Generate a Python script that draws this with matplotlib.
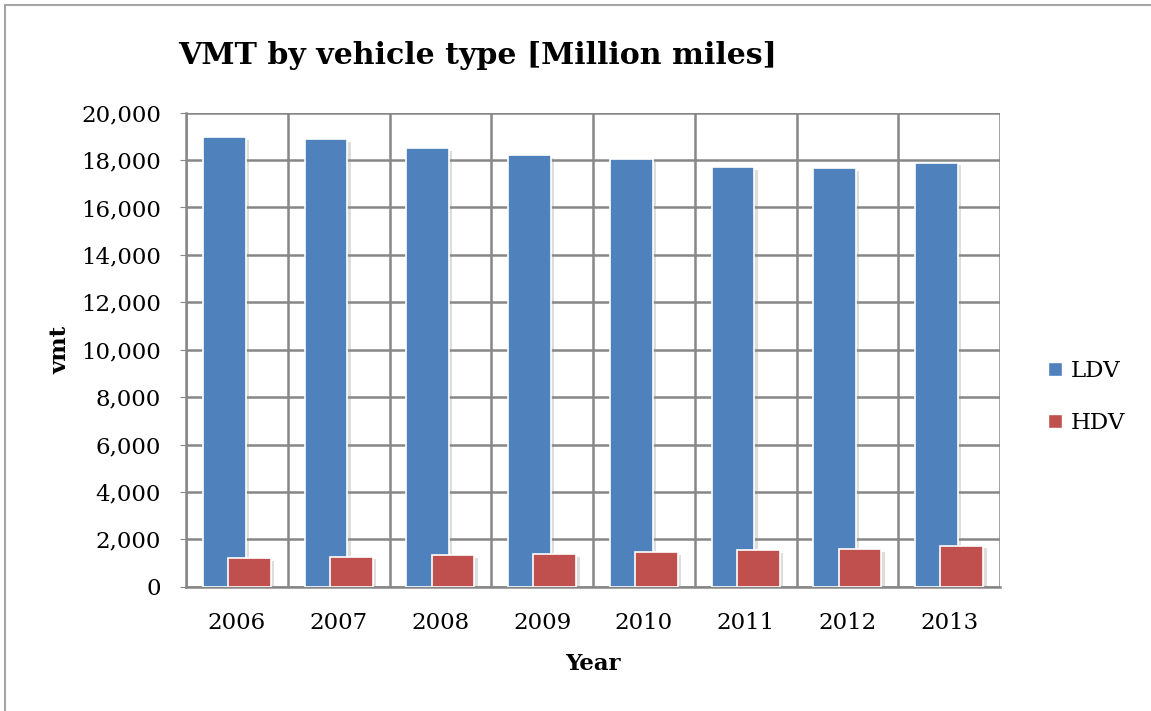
import matplotlib
matplotlib.use("Agg")
import matplotlib.pyplot as plt
import matplotlib.patheffects as pe
from matplotlib.lines import Line2D
from matplotlib.patches import Patch
from matplotlib.ticker import FuncFormatter
import numpy as np

years = ["2006", "2007", "2008", "2009", "2010", "2011", "2012", "2013"]
ldv = [18960, 18880, 18520, 18210, 18040, 17690, 17650, 17890]
hdv = [1200, 1265, 1330, 1390, 1465, 1545, 1600, 1730]

plt.rcParams["font.family"] = ["DejaVu Serif"]

fig = plt.figure(figsize=(11.51, 7.11), dpi=100)
ax = fig.add_axes([186 / 1151, 1 - 586.7 / 711, (1000 - 186) / 1151, (586.7 - 112.7) / 711])

x = np.arange(len(years))
w = 0.42
ldv_c, hdv_c = "#4F81BD", "#C0504D"
shadow = [pe.SimplePatchShadow(offset=(2.5, -2), shadow_rgbFace="#909090", alpha=0.3), pe.Normal()]
b1 = ax.bar(x - 0.125, ldv, w, color=ldv_c, edgecolor="white", linewidth=1.2, zorder=3)
b2 = ax.bar(x + 0.125, hdv, w, color=hdv_c, edgecolor="white", linewidth=1.2, zorder=4)
for bar in list(b1) + list(b2):
    bar.set_path_effects(shadow)

ax.set_xlim(-0.5, len(years) - 0.5)
ax.set_ylim(0, 20000)
ax.set_yticks(np.arange(0, 20001, 2000))
ax.yaxis.set_major_formatter(FuncFormatter(lambda v, p: f"{int(v):,}"))
ax.set_xticks(x)
ax.set_xticklabels(years)
ax.set_xticks(np.arange(-0.5, len(years)), minor=True)

grid_c = "#878787"
ax.grid(axis="y", which="major", color=grid_c, linewidth=1.8, zorder=0)
ax.grid(axis="x", which="minor", color=grid_c, linewidth=1.8, zorder=0)
ax.set_axisbelow(True)
for s in ["top", "right"]:
    ax.spines[s].set_visible(False)
for s in ["left", "bottom"]:
    ax.spines[s].set_color(grid_c)
    ax.spines[s].set_linewidth(1.8)

ax.tick_params(axis="y", which="major", length=4, color=grid_c, labelsize=16.5, pad=14)
ax.tick_params(axis="x", which="major", length=0, labelsize=16.5, pad=18)
ax.tick_params(axis="x", which="minor", length=0)

ax.set_xlabel("Year", fontsize=16.5, fontweight="bold", labelpad=14)
ax.set_ylabel("vmt", fontsize=16.5, fontweight="bold", labelpad=7)

fig.text(178 / 1151, 1 - 55 / 711, "VMT by vehicle type [Million miles]",
         fontsize=21.6, fontweight="bold", ha="left", va="center")

handles = [Patch(facecolor=ldv_c, edgecolor="white", label="LDV"),
           Patch(facecolor=hdv_c, edgecolor="white", label="HDV")]
ax.legend(handles=handles, loc="center left", bbox_to_anchor=(1.034, 0.40), frameon=False, fontsize=16.5,
          handlelength=0.6, handleheight=0.6, handletextpad=0.4, labelspacing=1.3)

# chart frame, left and top edges
fig.add_artist(Line2D([5 / 1151, 5 / 1151], [0, 1 - 5 / 711], transform=fig.transFigure, color="#a6a6a6", lw=1.5))
fig.add_artist(Line2D([5 / 1151, 1], [1 - 5 / 711, 1 - 5 / 711], transform=fig.transFigure, color="#a6a6a6", lw=1.5))

fig.savefig("out.png", dpi=100)
